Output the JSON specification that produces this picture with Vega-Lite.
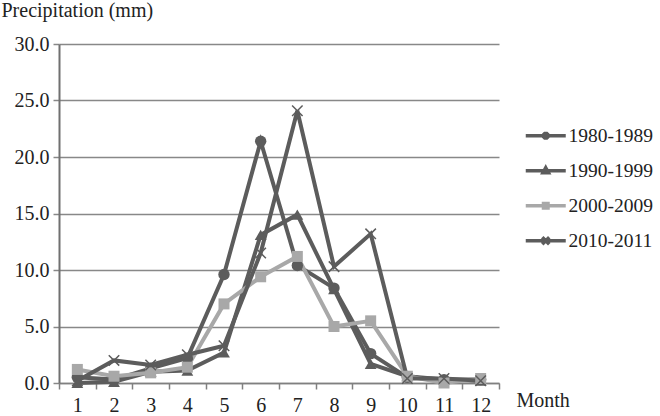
{
  "$schema": "https://vega.github.io/schema/vega-lite/v6.json",
  "width": 440,
  "height": 339,
  "autosize": {"type": "none"},
  "padding": {"left": 59, "top": 44, "right": 161, "bottom": 33},
  "background": "white",
  "config": {
    "view": {"stroke": null},
    "font": "Liberation Serif"
  },
  "data": {
    "values": [
      {"month": 1, "series": "1980-1989", "value": 0.5},
      {"month": 2, "series": "1980-1989", "value": 0.3},
      {"month": 3, "series": "1980-1989", "value": 1.3},
      {"month": 4, "series": "1980-1989", "value": 2.2},
      {"month": 5, "series": "1980-1989", "value": 9.6},
      {"month": 6, "series": "1980-1989", "value": 21.4},
      {"month": 7, "series": "1980-1989", "value": 10.4},
      {"month": 8, "series": "1980-1989", "value": 8.4},
      {"month": 9, "series": "1980-1989", "value": 2.6},
      {"month": 10, "series": "1980-1989", "value": 0.5},
      {"month": 11, "series": "1980-1989", "value": 0.3},
      {"month": 12, "series": "1980-1989", "value": 0.3},
      {"month": 1, "series": "1990-1999", "value": 0.0},
      {"month": 2, "series": "1990-1999", "value": 0.1},
      {"month": 3, "series": "1990-1999", "value": 1.0},
      {"month": 4, "series": "1990-1999", "value": 1.1},
      {"month": 5, "series": "1990-1999", "value": 2.7},
      {"month": 6, "series": "1990-1999", "value": 13.1},
      {"month": 7, "series": "1990-1999", "value": 14.9},
      {"month": 8, "series": "1990-1999", "value": 8.3},
      {"month": 9, "series": "1990-1999", "value": 1.7},
      {"month": 10, "series": "1990-1999", "value": 0.6},
      {"month": 11, "series": "1990-1999", "value": 0.3},
      {"month": 12, "series": "1990-1999", "value": 0.2},
      {"month": 1, "series": "2000-2009", "value": 1.2},
      {"month": 2, "series": "2000-2009", "value": 0.6},
      {"month": 3, "series": "2000-2009", "value": 0.9},
      {"month": 4, "series": "2000-2009", "value": 1.4},
      {"month": 5, "series": "2000-2009", "value": 7.0},
      {"month": 6, "series": "2000-2009", "value": 9.4},
      {"month": 7, "series": "2000-2009", "value": 11.2},
      {"month": 8, "series": "2000-2009", "value": 5.0},
      {"month": 9, "series": "2000-2009", "value": 5.5},
      {"month": 10, "series": "2000-2009", "value": 0.6},
      {"month": 11, "series": "2000-2009", "value": 0.0},
      {"month": 12, "series": "2000-2009", "value": 0.4},
      {"month": 1, "series": "2010-2011", "value": 0.2},
      {"month": 2, "series": "2010-2011", "value": 2.0},
      {"month": 3, "series": "2010-2011", "value": 1.6},
      {"month": 4, "series": "2010-2011", "value": 2.5},
      {"month": 5, "series": "2010-2011", "value": 3.3},
      {"month": 6, "series": "2010-2011", "value": 11.5},
      {"month": 7, "series": "2010-2011", "value": 24.1},
      {"month": 8, "series": "2010-2011", "value": 10.3},
      {"month": 9, "series": "2010-2011", "value": 13.2},
      {"month": 10, "series": "2010-2011", "value": 0.4},
      {"month": 11, "series": "2010-2011", "value": 0.4},
      {"month": 12, "series": "2010-2011", "value": 0.2}
    ]
  },
  "encoding": {
    "x": {
      "field": "month", "type": "quantitative",
      "scale": {"domain": [0.5, 12.5], "nice": false, "zero": false},
      "axis": {
        "values": [0.5, 1, 1.5, 2, 2.5, 3, 3.5, 4, 4.5, 5, 5.5, 6, 6.5, 7, 7.5, 8, 8.5, 9, 9.5, 10, 10.5, 11, 11.5, 12, 12.5],
        "labelExpr": "datum.value % 1 == 0 ? format(datum.value, 'd') : ''",
        "tickOpacity": {"condition": {"test": "datum.value % 1 == 0", "value": 0}, "value": 1},
        "grid": false,
        "domainColor": "#808080", "domainWidth": 1.5,
        "tickColor": "#808080", "tickWidth": 1.5, "tickSize": 6,
        "labelFont": "Liberation Serif", "labelColor": "#222",
        "labelFontSize": 20, "labelPadding": 6, "labelFlush": false, "labelOverlap": false,
        "title": "Month", "titleFont": "Liberation Serif", "titleColor": "#222", "titleFontWeight": "normal", "titleFontSize": 20,
        "titleAnchor": null, "titleX": 457, "titleY": 23, "titleAlign": "left", "titleBaseline": "alphabetic"
      }
    },
    "y": {
      "field": "value", "type": "quantitative",
      "scale": {"domain": [0, 30], "nice": false},
      "axis": {
        "values": [0, 5, 10, 15, 20, 25, 30],
        "format": ".1f",
        "grid": true, "gridColor": "#888888", "gridWidth": 1.5,
        "domainColor": "#707070", "domainWidth": 2,
        "tickColor": "#888888", "tickWidth": 1.5, "tickSize": 6,
        "labelFont": "Liberation Serif", "labelColor": "#222",
        "labelFontSize": 20, "labelPadding": 4,
        "title": "Precipitation (mm)", "titleFont": "Liberation Serif", "titleColor": "#222", "titleFontWeight": "normal", "titleFontSize": 20,
        "titleAngle": 0, "titleAnchor": null, "titleX": -58, "titleY": -28, "titleAlign": "left", "titleBaseline": "alphabetic"
      }
    }
  },
  "layer": [
    {
      "mark": {"type": "line", "strokeWidth": 4},
      "encoding": {
        "stroke": {
          "field": "series", "type": "nominal",
          "scale": {"domain": ["1980-1989", "1990-1999", "2000-2009", "2010-2011"], "range": ["#5c5c5c", "#5c5c5c", "#a8a8a8", "#5c5c5c"]},
          "legend": null
        }
      }
    },
    {
      "transform": [{"filter": "datum.series == '1980-1989'"}],
      "mark": {"type": "point", "filled": true, "opacity": 1, "size": 130, "shape": "circle", "color": "#5c5c5c"}
    },
    {
      "transform": [{"filter": "datum.series == '1990-1999'"}],
      "mark": {"type": "point", "filled": true, "opacity": 1, "size": 140, "shape": "triangle-up", "color": "#5c5c5c"}
    },
    {
      "transform": [{"filter": "datum.series == '2000-2009'"}],
      "mark": {"type": "point", "filled": true, "opacity": 1, "size": 121, "shape": "square", "color": "#a8a8a8"}
    },
    {
      "transform": [{"filter": "datum.series == '2010-2011'"}],
      "mark": {"type": "point", "filled": false, "opacity": 1, "size": 110, "strokeWidth": 1.5, "shape": "M-1,-1L1,1M-1,1L1,-1", "color": "#5c5c5c"}
    },
    {
      "mark": {"type": "point", "filled": false, "size": 100, "opacity": 0},
      "encoding": {
        "color": {
          "field": "series", "type": "nominal",
          "scale": {"domain": ["1980-1989", "1990-1999", "2000-2009", "2010-2011"], "range": ["#5c5c5c", "#5c5c5c", "#a8a8a8", "#5c5c5c"]},
          "legend": {
            "title": null, "orient": "none", "legendX": 477, "legendY": 82,
            "symbolOpacity": 1, "symbolStrokeWidth": 3.5, "symbolSize": 100,
            "labelFont": "Liberation Serif", "labelFontSize": 19.5, "labelColor": "#222",
            "labelOffset": 13, "rowPadding": 14
          }
        },
        "shape": {
          "field": "series", "type": "nominal",
          "scale": {
            "domain": ["1980-1989", "1990-1999", "2000-2009", "2010-2011"],
            "range": [
              "M-4,0H4M-0.45,-0.2L-0.2,-0.45L0.2,-0.45L0.45,-0.2L0.45,0.2L0.2,0.45L-0.2,0.45L-0.45,0.2Z",
              "M-4,0H4M0,-0.6L0.55,0.4L-0.55,0.4Z",
              "M-4,0H4M-0.45,-0.45H0.45V0.45H-0.45Z",
              "M-4,0H4M-0.7,-0.7L0.7,0.7M-0.7,0.7L0.7,-0.7"
            ]
          },
          "legend": {
            "title": null, "orient": "none", "legendX": 477, "legendY": 82,
            "symbolOpacity": 1, "symbolStrokeWidth": 3.5, "symbolSize": 100,
            "labelFont": "Liberation Serif", "labelFontSize": 19.5, "labelColor": "#222",
            "labelOffset": 13, "rowPadding": 14
          }
        }
      }
    }
  ],
  "resolve": {"scale": {"color": "independent", "shape": "independent"}, "legend": {"color": "independent", "shape": "independent"}}
}
